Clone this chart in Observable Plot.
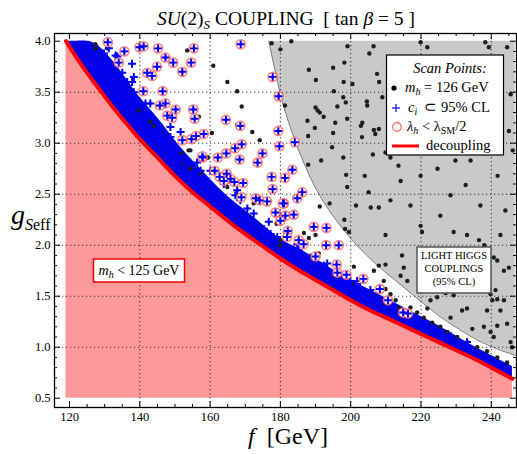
<!DOCTYPE html>
<html>
<head>
<meta charset="utf-8">
<script src="https://cdn.jsdelivr.net/npm/d3@7"></script>
<script src="https://cdn.jsdelivr.net/npm/@observablehq/plot@0.6"></script>
<style>
  html, body { margin: 0; padding: 0; background: white; }
  #chart svg { display: block; }
</style>
</head>
<body>
<div id="chart"></div>
<script>
// ---------- data ----------
const xMajor = [120, 140, 160, 180, 200, 220, 240];
const yMajor = [0.5, 1.0, 1.5, 2.0, 2.5, 3.0, 3.5, 4.0];
const xGrid = [140, 160, 180, 200, 220, 240];
const yGrid = [1.0, 1.5, 2.0, 2.5, 3.0, 3.5];

// decoupling curve (red line, top of the m_h < 125 GeV region)
const decF = [119, 122, 125, 128, 132, 136, 140, 145, 150, 155, 160, 165, 170, 175, 180, 185, 190, 195, 200, 205, 210, 215, 220, 225, 230, 235, 240, 246];
const decG = [4.00, 3.84, 3.69, 3.55, 3.37, 3.20, 3.04, 2.86, 2.68, 2.52, 2.38, 2.24, 2.11, 1.99, 1.87, 1.76, 1.66, 1.56, 1.46, 1.37, 1.29, 1.21, 1.13, 1.05, 0.97, 0.89, 0.80, 0.69];
// upper edge of the dense band of scan points (c_i in 95% CL)
const bandTop = [4.00, 4.00, 4.00, 3.96, 3.82, 3.64, 3.45, 3.25, 3.03, 2.83, 2.65, 2.48, 2.34, 2.20, 2.06, 1.97, 1.87, 1.76, 1.66, 1.57, 1.48, 1.39, 1.30, 1.21, 1.11, 1.01, 0.92, 0.81];

// boundary of the grey "light Higgs couplings (95% CL)" region
const greyF = [176.7, 178.3, 180.0, 182.0, 184.3, 187.0, 190.0, 193.5, 197.5, 202.0, 207.0, 212.5, 218.5, 225.0, 232.0, 239.0, 246.8];
const greyG = [4.00, 3.74, 3.48, 3.24, 3.01, 2.78, 2.56, 2.36, 2.17, 1.99, 1.82, 1.66, 1.49, 1.31, 1.15, 1.02, 0.92];

// scan points with m_h = 126 GeV (black dots)
const blackDots = [
  [177.5,3.98],[183.1,4.0],[180,3.92],[199.1,3.95],[205.3,3.88],[198.2,3.79],[188.1,3.72],[195,3.74],[190.1,3.62],[198,3.6],
  [200.5,3.58],[208.1,3.6],[195.2,3.51],[197.9,3.45],[181.3,3.37],[198.6,3.4],[204.6,3.41],[190,3.35],[190.6,3.32],[191.2,3.30],
  [192.3,3.26],[196.2,3.36],[204.7,3.37],[187.7,3.22],[195.6,3.2],[199,3.24],[202.9,3.17],[203.3,3.2],[206.6,3.13],[189.8,3.15],
  [195,3.10],[187.9,3.07],[203.2,3.06],[194.7,2.96],[197.9,2.86],[191.6,2.83],[206.3,2.89],[187.9,2.79],[198.7,2.69],[204,2.68],
  [199,2.57],[205.1,2.52],[194,2.41],[201.5,2.39],[205.7,2.37],[208,2.37],[198.2,2.25],[198.4,2.16],
  [219.9,3.99],[221.8,3.94],[238.3,3.99],[239.3,3.94],[244.5,3.94],[207.5,3.68],[208,3.14],[207,3.09],[245.5,3.48],[245,3.12],
  [209.9,2.91],[211.3,2.86],[246.1,2.93],[206.5,3.95],[209,3.45],
  [213.6,2.78],[219.9,2.68],[224.7,2.75],[228.4,2.49],[225.5,2.29],[232.7,2.59],[236.9,2.39],[241.8,2.68],[244.0,2.34],[219.9,2.19],
  [211.3,2.44],[217.0,2.39],[229.8,2.83],[234.1,2.83],[242.6,2.10],[209.9,2.10],[214.2,2.63],
  [220.3,2.13],[229.3,2.13],[233.1,2.10],[236.5,2.05],[238,2.0],[214.6,1.90],[215.1,1.78],[214.2,1.70],[216.1,1.65],
  [240.7,1.88],[241.7,1.85],[239.8,1.52],[229.3,1.51],[224.6,1.49],[241.2,1.56],[241.7,1.47],
  [208,1.80],[209.9,1.81],[219.9,1.72],[222.2,1.67],[227,1.53],[231.7,1.36],[233.1,1.38],[234.6,1.18],[228.4,1.29],
  [222.7,1.46],[221.8,1.38],[237.9,1.20],[239.8,1.15],[240.7,1.10],[243.6,1.46],[242.6,1.36],[244.5,1.23],[245.5,1.05],[245.9,1.00],
  [238.8,1.36],[240.3,1.46],[241.7,1.21],[245,1.78],[243.6,1.75],
  [160.9,3.76],[164.9,3.6],[167.7,3.51],[169,3.36],[167.7,3.18],[160.5,3.10],[172,3.11],[174.1,3.03],[159.4,2.86],[157.6,2.72],
  [177.5,2.56],[172.4,2.41],[179.7,2.31],[178.9,2.21],[130.7,3.93],[153.5,3.91],[156.8,3.26],[143,3.21],[144,3.17],[154.4,2.93],
  [159.2,2.86],[191.2,2.38],[179.5,2.29],[190,2.10],[186.7,2.12],[188.1,2.07],[179.8,2.0],[190.9,1.92],[180,2.05],[200.9,1.62],[199.5,2.13],
  [200.9,1.79],[206.6,1.75],[209.9,1.57],[211.3,1.52],[212.8,1.46],[213.7,1.39],[217,1.39],[218.9,1.34],[220.8,1.29],[223.2,1.24],
  [225.5,1.20],[227.5,1.15],[230.3,1.10],[233.1,1.05],[236,1.00],[238.8,0.96],[241.7,0.90],[244.5,0.85],[209.4,1.65],
  [139.7,3.32],[127.4,3.97],[127.4,3.93],[153.9,2.93],[151.6,2.9],[157.3,2.70],[168.6,2.97],[164.9,2.57],[152.5,2.80],[154.4,2.75]
];

// scan points with c_i in 95% CL outside the dense band (blue crosses)
const blueCrosses = [
  [129.8,3.88],[131.2,3.93],[133.1,3.86],[137.8,3.78],[130.7,3.76],[136.4,3.60],[138.8,3.44],[143,3.39],[133.6,3.85],[138.3,3.65],
  [137.8,3.60],[135,3.69],[138.3,3.5],[141.6,3.39],[145.4,3.18],[148.7,3.16],[151.6,3.11],[148.7,3.06],[150.6,2.88],[157.3,2.73],
  [153.5,2.80],[172.4,2.31],[176.7,2.23],[177.2,2.11],[185.2,1.95],[193.3,1.82],[197.1,1.62],[201.8,1.65],[184.8,2.01],[188.6,1.88],
  [145.9,3.03],[150.6,2.93],[156.3,2.81],[160.1,2.73],[163.9,2.60],[167.2,2.49],[168.6,2.44],[170.6,2.36],[167.7,2.54],
  [166.7,2.31],[169.6,2.19],[175.3,2.16],[179.1,2.08],[182.9,1.95],[187.6,1.87],[192.3,1.80],[199.9,1.65],[201.8,1.62],
  [199,1.62],[201.8,1.60],[205.6,1.56],[203.7,1.52],[212.3,1.38],[218.9,1.28],[223.6,1.18],[228.4,1.11],[233.1,1.05]
];

// scan points with lambda_h < lambda_SM/2 (red rings around blue crosses)
const ringed = [
  [168.7,3.97],[177.8,3.65],[179.5,3.46],[164.5,3.23],[168.6,3.17],[179.4,3.12],[158.2,3.09],[184.1,3.01],[179.7,2.97],[167.1,2.95],
  [169.0,2.99],[164.6,2.90],[157.9,2.86],[162.2,2.86],[174.9,2.90],[168.4,2.84],[173.5,2.81],[183.4,2.74],[161.3,2.73],[164.7,2.70],
  [177.5,2.67],[181.3,2.66],[162.7,2.67],[165.8,2.65],[166.9,2.62],[169.4,2.61],[177.8,2.55],[186.2,2.52],[168.9,2.47],[173,2.46],
  [174.1,2.44],[176.2,2.43],[184.8,2.46],[181,2.41],[178.6,2.32],[181.4,2.29],[183.8,2.30],[180,2.24],[189.5,2.18],[193.1,2.17],
  [130.9,3.99],[139.9,3.94],[141.1,3.95],[135.6,3.90],[145.2,3.93],[155.4,3.93],[147.3,3.84],[134,3.79],[149.5,3.79],[154.6,3.79],
  [144.9,3.75],[152.1,3.70],[142.1,3.69],[143.5,3.66],[141,3.51],[146.5,3.51],[147.3,3.39],[145.7,3.37],[150.2,3.33],[155.2,3.33],
  [147.8,3.27],[149.2,3.25],[155.6,3.24],[152.1,3.03],[154.7,3.04],[156,3.07],[157.8,2.87],[163.9,2.63],
  [180.7,2.41],[182.1,2.14],[181.9,2.08],[185.2,2.05],[186.6,2.01],[193,2.00],[196.6,2.00],[190,1.89],[196,1.81],[196.2,1.73],
  [198.8,1.71],[203.6,1.67],[208.3,1.57],[210.6,1.46],[214.9,1.34],[216.3,1.33]
];

// ---------- chart ----------
const W = 517, H = 454;
const mT = 33, mB = 47, mL = 54, mR = 1;
const plotW = W - mL - mR, plotH = H - mT - mB;
const serif = "'Liberation Serif', 'Times New Roman', Times, serif";

const dec = decF.map((f, i) => ({f, g: decG[i], top: bandTop[i]}));
const grey = greyF.map((f, i) => ({f, g: greyG[i]}));
const xMinor = d3.range(120, 246, 5).filter(v => v % 20 !== 0);
const yMinor = d3.range(5, 41, 1).map(v => v / 10).filter(v => Math.round(v * 10) % 5 !== 0);

const fx = d => d[0], fy = d => d[1];

const svg = Plot.plot({
  width: W, height: H,
  marginTop: mT, marginBottom: mB, marginLeft: mL, marginRight: mR,
  style: {fontFamily: serif, background: "white", color: "black"},
  x: {domain: [115.73, 247.17]},
  y: {domain: [0.409, 4.0755]},
  marks: [
    Plot.areaY(dec, {x: "f", y1: 0.5, y2: "g", fill: "#ff9999", curve: "natural"}),
    Plot.areaX(grey, {y: "g", x1: "f", x2: () => 246.8, fill: "#c9c9c9", curve: "natural"}),
    Plot.line(grey, {x: "f", y: "g", stroke: "#808080", strokeWidth: 1, curve: "natural"}),
    Plot.ruleX(xGrid, {stroke: "#222", strokeWidth: 1.1, strokeDasharray: "1.2,2.8", strokeOpacity: 0.85}),
    Plot.ruleY(yGrid, {stroke: "#222", strokeWidth: 1.1, strokeDasharray: "1.2,2.8", strokeOpacity: 0.85}),
    Plot.areaY(dec, {x: "f", y1: "g", y2: "top", fill: "#0000e8", curve: "natural"}),
    Plot.dot(blackDots, {x: fx, y: fy, r: 2.2, fill: "#1e1e1e", stroke: "none"}),
    Plot.dot(blueCrosses, {x: fx, y: fy, r: 1.5, fill: "#101050", stroke: "none"}),
    Plot.dot(blueCrosses, {x: fx, y: fy, symbol: "plus", r: 2.7, stroke: "#0000ff", strokeWidth: 2}),
    Plot.dot(ringed, {x: fx, y: fy, r: 4.6, fill: "#ffe8e8", stroke: "#ff5a5a", strokeWidth: 1.5, strokeOpacity: 0.75}),
    Plot.dot(ringed, {x: fx, y: fy, r: 1.5, fill: "#101050", stroke: "none"}),
    Plot.dot(ringed, {x: fx, y: fy, symbol: "plus", r: 2.6, stroke: "#0000ff", strokeWidth: 1.9}),
    Plot.line(dec, {x: "f", y: "g", stroke: "#ff0000", strokeWidth: 4, curve: "natural"}),
    Plot.ruleX(xMajor, {insetTop: plotH - 6, stroke: "black"}),
    Plot.ruleX(xMajor, {insetBottom: plotH - 6, stroke: "black"}),
    Plot.ruleX(xMinor, {insetTop: plotH - 3, stroke: "black"}),
    Plot.ruleX(xMinor, {insetBottom: plotH - 3, stroke: "black"}),
    Plot.ruleY(yMajor, {insetRight: plotW - 6, stroke: "black"}),
    Plot.ruleY(yMajor, {insetLeft: plotW - 6, stroke: "black"}),
    Plot.ruleY(yMinor, {insetRight: plotW - 3, stroke: "black"}),
    Plot.ruleY(yMinor, {insetLeft: plotW - 3, stroke: "black"}),
    Plot.frame({stroke: "black", strokeWidth: 1.3}),
    Plot.axisX(xMajor, {tickSize: 0, tickPadding: 5, fontSize: 12.5, label: null, fontFamily: serif}),
    Plot.axisY(yMajor, {tickSize: 0, tickPadding: 4, fontSize: 12.5, label: null, fontFamily: serif, tickFormat: d => d.toFixed(1)})
  ]
});

document.getElementById("chart").appendChild(svg);

// ---------- annotations ----------
const s = d3.select(svg);
const ann = s.append("g").attr("font-family", serif).attr("fill", "black").attr("text-anchor", "start");

// title
const t = ann.append("text").attr("x", 286).attr("y", 25).attr("text-anchor", "middle")
  .attr("font-size", 19.5).style("white-space", "pre");
t.append("tspan").attr("font-style", "italic").text("SU");
t.append("tspan").text("(2)");
t.append("tspan").attr("font-style", "italic").attr("font-size", 13).attr("dy", 4).text("S");
t.append("tspan").attr("dy", -4).text(" COUPLING  [ tan ");
t.append("tspan").attr("font-style", "italic").text("β");
t.append("tspan").text(" = 5 ]");

// y label
const yl = ann.append("text").attr("x", 11).attr("y", 224).style("white-space", "pre");
yl.append("tspan").attr("font-style", "italic").attr("font-size", 28).text("g");
yl.append("tspan").attr("font-style", "italic").attr("font-size", 16).attr("dy", 6).text("S");
yl.append("tspan").attr("font-size", 16).text("eff");

// x label
const xl = ann.append("text").attr("x", 288).attr("y", 444).attr("text-anchor", "middle")
  .attr("font-size", 24).style("white-space", "pre");
xl.append("tspan").attr("font-style", "italic").text("f");
xl.append("tspan").text("  [GeV]");

// m_h < 125 GeV box
ann.append("rect").attr("x", 93.5).attr("y", 259).attr("width", 91).attr("height", 23)
  .attr("fill", "white").attr("stroke", "#ee0000").attr("stroke-width", 1.5);
const mt = ann.append("text").attr("x", 139).attr("y", 275).attr("text-anchor", "middle")
  .attr("font-size", 14).style("white-space", "pre");
mt.append("tspan").attr("font-style", "italic").text("m");
mt.append("tspan").attr("font-style", "italic").attr("font-size", 10).attr("dy", 3).text("h");
mt.append("tspan").attr("dy", -3).text(" < 125 GeV");

// light Higgs couplings box
ann.append("rect").attr("x", 417).attr("y", 247).attr("width", 74).attr("height", 46)
  .attr("fill", "white").attr("stroke", "#555").attr("stroke-width", 1.5);
[["LIGHT HIGGS", 259], ["COUPLINGS", 272], ["(95% CL)", 285]].forEach(([txt, y]) => {
  ann.append("text").attr("x", 454).attr("y", y).attr("text-anchor", "middle")
    .attr("font-size", 10.5).text(txt);
});

// legend
ann.append("rect").attr("x", 386.5).attr("y", 55).attr("width", 117).attr("height", 100)
  .attr("fill", "white").attr("stroke", "black").attr("stroke-width", 1.2);
ann.append("text").attr("x", 450).attr("y", 73).attr("text-anchor", "middle")
  .attr("font-size", 14.5).attr("font-style", "italic").text("Scan Points:");
ann.append("circle").attr("cx", 394).attr("cy", 88).attr("r", 2.6).attr("fill", "black");
const l1 = ann.append("text").attr("x", 405).attr("y", 92).attr("font-size", 14.5).style("white-space", "pre");
l1.append("tspan").attr("font-style", "italic").text("m");
l1.append("tspan").attr("font-style", "italic").attr("font-size", 10).attr("dy", 3).text("h");
l1.append("tspan").attr("dy", -3).text(" = 126 GeV");
ann.append("path").attr("d", "M392,108H400M396,104V112").attr("stroke", "#3333ff").attr("stroke-width", 1.5);
const l2 = ann.append("text").attr("x", 408).attr("y", 112).attr("font-size", 14.5).style("white-space", "pre");
l2.append("tspan").attr("font-style", "italic").text("c");
l2.append("tspan").attr("font-style", "italic").attr("font-size", 10).attr("dy", 3).text("i");
l2.append("tspan").attr("dy", -3).text("  ⊂ 95% CL");
ann.append("circle").attr("cx", 397).attr("cy", 127).attr("r", 4.3).attr("fill", "none")
  .attr("stroke", "#ff5a5a").attr("stroke-width", 1.2);
const l3 = ann.append("text").attr("x", 407).attr("y", 131).attr("font-size", 14.5).style("white-space", "pre");
l3.append("tspan").attr("font-style", "italic").text("λ");
l3.append("tspan").attr("font-style", "italic").attr("font-size", 10).attr("dy", 3).text("h");
l3.append("tspan").attr("dy", -3).text(" < λ");
l3.append("tspan").attr("font-size", 10).attr("dy", 3).text("SM");
l3.append("tspan").attr("dy", -3).text("/2");
ann.append("line").attr("x1", 392).attr("x2", 419).attr("y1", 146).attr("y2", 146)
  .attr("stroke", "#ff0000").attr("stroke-width", 3);
ann.append("text").attr("x", 426).attr("y", 150).attr("font-size", 14.5).text("decoupling");
</script>
</body>
</html>
